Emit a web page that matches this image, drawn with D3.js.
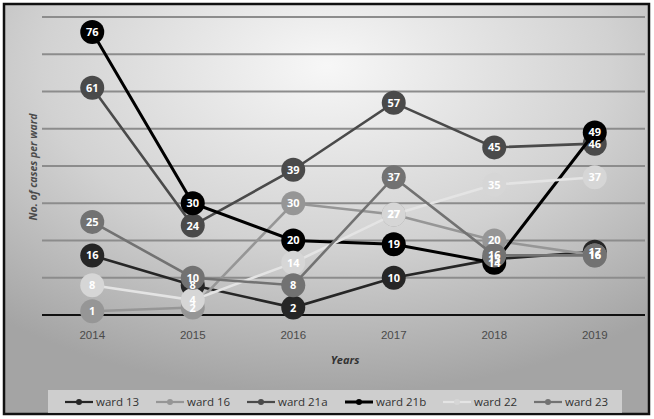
<!DOCTYPE html>
<html><head><meta charset="utf-8">
<script src="https://cdn.jsdelivr.net/npm/d3@7"></script>
<style>html,body{margin:0;padding:0;background:#fff;}svg{display:block;font-family:"Open Sans","Noto Sans",sans-serif;}</style>
</head><body>
<script>
const years = ["2014","2015","2016","2017","2018","2019"];
const seriesNames = ["ward 13","ward 16","ward 21a","ward 21b","ward 22","ward 23"];
const ward13  = [16, 8, 2, 10, 15, 17];
const ward16  = [1, 2, 30, 27, 20, 16];
const ward21a = [61, 24, 39, 57, 45, 46];
const ward21b = [76, 30, 20, 19, 14, 49];
const ward22  = [8, 4, 14, 27, 35, 37];
const ward23  = [25, 10, 8, 37, 16, 16];
const yTicks = [0,10,20,30,40,50,60,70,80];
const colors = ["#262626","#969696","#4a4a4a","#000000","#d6d6d6","#727272"];
const lineColors = ["#262626","#969696","#4a4a4a","#000000","#e4e4e4","#727272"];

const series = seriesNames.map((n,i)=>({name:n, values:[ward13,ward16,ward21a,ward21b,ward22,ward23][i], color:colors[i], line:lineColors[i]}));

const W=654,H=419;
const svg=d3.select("body").append("svg").attr("width",W).attr("height",H);
const defs=svg.append("defs");
const g=defs.append("radialGradient").attr("id","bg").attr("cx","50%").attr("cy","15%").attr("r","80%").attr("fx","50%").attr("fy","15%");
g.append("stop").attr("offset","0%").attr("stop-color","#f7f7f7");
g.append("stop").attr("offset","55%").attr("stop-color","#d2d2d2");
g.append("stop").attr("offset","100%").attr("stop-color","#a4a4a4");

svg.append("rect").attr("x",4).attr("y",4).attr("width",645).attr("height",410)
  .attr("fill","url(#bg)").attr("stroke","#111").attr("stroke-width",2.5);

const x=d3.scaleBand().domain(years).range([42,645]);
const y=d3.scaleLinear().domain([0,80]).range([315,17]);
const cx=d=>x(d)+x.bandwidth()/2;

// gridlines
svg.append("g").selectAll("line").data(yTicks.filter(t=>t>0)).join("line")
  .attr("x1",42).attr("x2",645).attr("y1",d=>y(d)).attr("y2",d=>y(d))
  .attr("stroke","#8c8c8c").attr("stroke-width",2);

// x axis
const xAxis=svg.append("g").attr("transform",`translate(0,${y(0)})`)
  .call(d3.axisBottom(x).tickSize(0).tickPadding(16));
xAxis.select(".domain").attr("stroke","#111").attr("stroke-width",2.2).attr("d","M42,0H645");
xAxis.selectAll("text").attr("fill","#4a4a4a").attr("font-size",11.5).attr("font-weight","normal");

// titles
svg.append("text").attr("x",345).attr("y",364).attr("text-anchor","middle")
  .attr("font-size",11).attr("font-weight","bold").attr("font-style","italic").attr("fill","#333").text("Years");
svg.append("text").attr("transform","translate(37,167) rotate(-90)").attr("text-anchor","middle")
  .attr("font-size",10.5).attr("font-weight","bold").attr("font-style","italic").attr("fill","#4a4a4a").text("No. of  cases per ward");

const line=d3.line().x((d,i)=>cx(years[i])).y(d=>y(d));
const plot=svg.append("g");
series.forEach(s=>{
  const sg=plot.append("g");
  sg.append("path").attr("d",line(s.values)).attr("fill","none")
    .attr("stroke",s.line).attr("stroke-width",s.name==="ward 21b"?3:2.6);
  sg.selectAll("circle").data(s.values).join("circle")
    .attr("cx",(d,i)=>cx(years[i])).attr("cy",d=>y(d)).attr("r",12).attr("fill",s.color);
});
const labels=svg.append("g");
series.forEach(s=>{
  labels.selectAll(null).data(s.values).join("text")
    .attr("x",(d,i)=>cx(years[i])).attr("y",d=>y(d)).attr("dy","0.36em")
    .attr("text-anchor","middle").attr("font-size",11).attr("font-weight","bold")
    .attr("fill","#fff").text(d=>d);
});

// legend
const lg=svg.append("g");
lg.append("rect").attr("x",48).attr("y",390).attr("width",574).attr("height",23).attr("fill","#dcdcdc").attr("opacity",0.75);
const lx=[65,156,247,345,443,534];
series.forEach((s,i)=>{
  const it=lg.append("g").attr("transform",`translate(${lx[i]},402)`);
  it.append("line").attr("x1",0).attr("x2",28).attr("stroke",s.line).attr("stroke-width",s.name==="ward 21b"?3:2.2);
  it.append("circle").attr("cx",14).attr("r",3).attr("fill",s.color);
  it.append("text").attr("x",31).attr("dy","0.35em").attr("font-size",11.5).attr("fill","#333").text(s.name);
});
</script>
</body></html>
